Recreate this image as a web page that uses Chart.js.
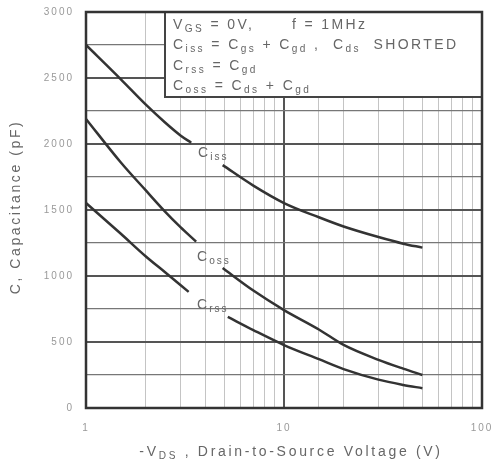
<!DOCTYPE html>
<html>
<head>
<meta charset="utf-8">
<script src="https://cdn.jsdelivr.net/npm/chart.js@4.4.1/dist/chart.umd.min.js"></script>
<style>
  html, body { margin: 0; padding: 0; background: #fff; }
  #wrap { width: 492px; height: 473px; }
</style>
</head>
<body>
<div id="wrap"><canvas id="capChart" width="492" height="473"></canvas></div>
<script>
// Capacitance vs drain-to-source voltage (null = gap where the curve label sits)
const vdsCiss = [1, 1.5, 2, 2.5, 3, 3.4, 4, 4.9, 7, 10, 15, 20, 30, 40, 50];
const ciss    = [2750, 2490, 2300, 2165, 2065, 2010, null, 1840, 1685, 1553, 1445, 1375, 1295, 1245, 1215];

const vdsCoss = [1, 1.5, 2, 2.5, 3, 3.6, 4.2, 4.9, 7, 10, 15, 20, 30, 40, 50];
const coss    = [2190, 1860, 1650, 1490, 1370, 1260, null, 1060, 890, 742, 595, 478, 365, 298, 250];

const vdsCrss = [1, 1.5, 2, 2.5, 3.3, 4.2, 5.2, 7, 10, 15, 20, 30, 40, 50];
const crss    = [1553, 1320, 1150, 1030, 880, null, 690, 590, 477, 370, 295, 215, 175, 150];

const xTickLabels = [1, 10, 100];
const yTickLabels = [0, 500, 1000, 1500, 2000, 2500, 3000];

// curve name labels: [x, y, main, sub]
const curveLabels = [
    [3.68, 1932, 'C', 'iss'],
    [3.64, 1144, 'C', 'oss'],
    [3.64, 780, 'C', 'rss']
];

// conditions box lines, each a list of [text, isSubscript]
const noteLines = [
    [['V', 0], ['GS', 1], [' = 0V,      f = 1MHz', 0]],
    [['C', 0], ['iss', 1], [' = C', 0], ['gs', 1], [' + C', 0], ['gd', 1], [' ,  C', 0], ['ds', 1], ['  SHORTED', 0]],
    [['C', 0], ['rss', 1], [' = C', 0], ['gd', 1]],
    [['C', 0], ['oss', 1], [' = C', 0], ['ds', 1], [' + C', 0], ['gd', 1]]
];

const FONT = '"Liberation Sans", Arial, sans-serif';
const INK = '#333';
const TXT = '#666';

function toPoints(xs, ys) {
    return xs.map(function(v, i) { return { x: v, y: ys[i] }; });
}

function drawRuns(ctx, x, y, runs, size) {
    runs.forEach(function(r) {
        const s = r[1] ? size * 0.72 : size;
        ctx.font = s + 'px ' + FONT;
        ctx.fillText(r[0], x, r[1] ? y + size * 0.28 : y);
        x += ctx.measureText(r[0]).width;
    });
    return x;
}

function runsWidth(ctx, runs, size) {
    let w = 0;
    runs.forEach(function(r) {
        ctx.font = (r[1] ? size * 0.72 : size) + 'px ' + FONT;
        w += ctx.measureText(r[0]).width;
    });
    return w;
}

const extras = {
    id: 'extras',
    beforeDraw: function(chart) {
        // the scanned datasheet text is widely spaced
        chart.ctx.letterSpacing = '2px';
    },
    afterDatasetsDraw: function(chart) {
        const ctx = chart.ctx;
        const a = chart.chartArea;
        const xs = chart.scales.x, ys = chart.scales.y;
        ctx.save();

        // curve labels
        ctx.fillStyle = TXT;
        ctx.textBaseline = 'middle';
        ctx.textAlign = 'left';
        ctx.letterSpacing = '2px';
        curveLabels.forEach(function(l) {
            drawRuns(ctx, xs.getPixelForValue(l[0]), ys.getPixelForValue(l[1]), [[l[2], 0], [l[3], 1]], 14);
        });

        // conditions box
        const bx = 165, by = a.top, bw = a.right - 165, bh = 85;
        ctx.fillStyle = '#fff';
        ctx.fillRect(bx, by, bw, bh);
        ctx.strokeStyle = '#444';
        ctx.lineWidth = 2;
        ctx.strokeRect(bx, by, bw, bh);
        ctx.fillStyle = TXT;
        ctx.letterSpacing = '2.4px';
        noteLines.forEach(function(line, i) {
            drawRuns(ctx, 173, by + 13 + i * 20.5, line, 14);
        });

        // plot frame
        ctx.strokeStyle = INK;
        ctx.lineWidth = 2.5;
        ctx.strokeRect(a.left, a.top, a.right - a.left, a.bottom - a.top);

        // axis titles
        ctx.fillStyle = TXT;
        ctx.textBaseline = 'middle';
        ctx.letterSpacing = '2.7px';
        const xt = [['-V', 0], ['DS', 1], [' , Drain-to-Source Voltage (V)', 0]];
        const w = runsWidth(ctx, xt, 14);
        drawRuns(ctx, 291 - w / 2, 452, xt, 14);

        ctx.letterSpacing = '2.6px';
        ctx.translate(16, 207);
        ctx.rotate(-Math.PI / 2);
        ctx.textAlign = 'center';
        ctx.font = '14px ' + FONT;
        ctx.fillText('C, Capacitance (pF)', 0, 0);
        ctx.restore();
    }
};

const lineStyle = {
    borderColor: INK,
    borderWidth: 2.5,
    pointRadius: 0,
    fill: false,
    spanGaps: false,
    cubicInterpolationMode: 'monotone'
};

new Chart(document.getElementById('capChart').getContext('2d'), {
    type: 'line',
    data: {
        datasets: [
            Object.assign({ label: 'Ciss', data: toPoints(vdsCiss, ciss) }, lineStyle),
            Object.assign({ label: 'Coss', data: toPoints(vdsCoss, coss) }, lineStyle),
            Object.assign({ label: 'Crss', data: toPoints(vdsCrss, crss) }, lineStyle)
        ]
    },
    options: {
        responsive: false,
        animation: false,
        layout: { padding: { left: 0, right: 10, top: 12, bottom: 0 } },
        scales: {
            x: {
                type: 'logarithmic',
                min: 1,
                max: 100,
                afterFit: function(s) {
                    s.height = 65;
                    s.paddingLeft = 0;
                    s.paddingRight = 0;
                },
                border: { display: false },
                grid: {
                    drawTicks: false,
                    color: function(c) {
                        return c.tick && c.tick.value === 10 ? '#555' : '#c4c4c4';
                    },
                    lineWidth: function(c) {
                        return c.tick && c.tick.value === 10 ? 2 : 1;
                    }
                },
                ticks: {
                    padding: 14,
                    autoSkip: false,
                    maxRotation: 0,
                    color: '#999',
                    font: { family: FONT, size: 10 },
                    callback: function(v) {
                        return xTickLabels.indexOf(v) >= 0 ? String(v) : '';
                    }
                }
            },
            y: {
                min: 0,
                max: 3000,
                afterFit: function(s) {
                    s.width = 86;
                    s.paddingTop = 0;
                    s.paddingBottom = 0;
                },
                border: { display: false },
                grid: {
                    drawTicks: false,
                    color: function(c) {
                        return c.tick && c.tick.value % 500 === 0 ? '#555' : '#777';
                    },
                    lineWidth: function(c) {
                        return c.tick && c.tick.value % 500 === 0 ? 2 : 1.2;
                    }
                },
                ticks: {
                    stepSize: 250,
                    padding: 12,
                    color: '#999',
                    font: { family: FONT, size: 10 },
                    callback: function(v) {
                        return yTickLabels.indexOf(v) >= 0 ? String(v) : '';
                    }
                }
            }
        },
        plugins: {
            legend: { display: false },
            tooltip: { enabled: false }
        }
    },
    plugins: [extras]
});
</script>
</body>
</html>
